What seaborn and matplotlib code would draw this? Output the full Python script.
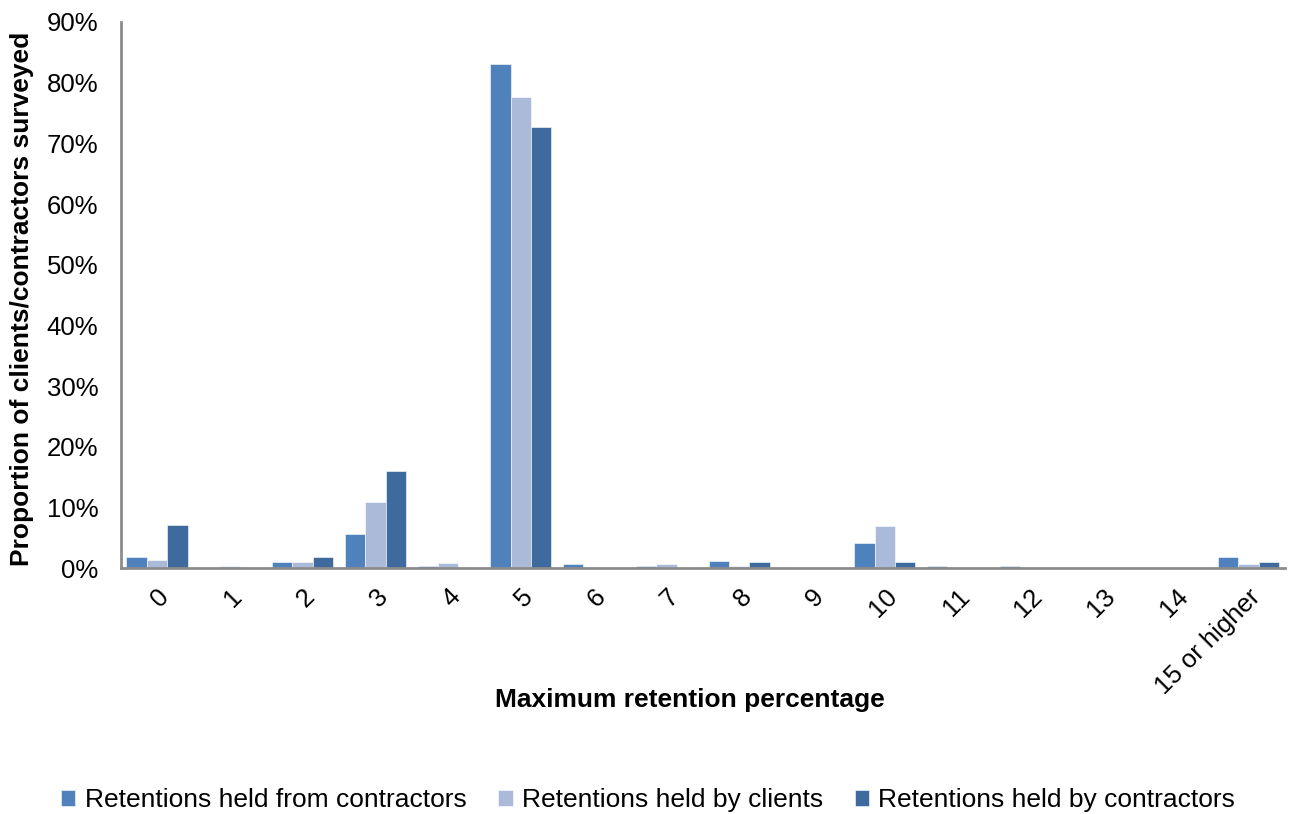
import matplotlib
matplotlib.use("Agg")
import matplotlib.pyplot as plt
import seaborn as sns
import pandas as pd
from matplotlib.ticker import FuncFormatter

categories = ["0", "1", "2", "3", "4", "5", "6", "7", "8", "9", "10",
              "11", "12", "13", "14", "15 or higher"]
held_from_contractors = [1.8, 0.0, 1.0, 5.6, 0.3, 83.0, 0.6, 0.3, 1.2, 0.0, 4.1,
                         0.3, 0.3, 0.0, 0.0, 1.8]
held_by_clients = [1.3, 0.3, 1.0, 10.8, 0.9, 77.6, 0.0, 0.6, 0.3, 0.0, 6.9,
                   0.0, 0.0, 0.0, 0.0, 0.6]
held_by_contractors = [7.1, 0.0, 1.8, 16.0, 0.0, 72.7, 0.0, 0.0, 1.0, 0.0, 1.0,
                       0.0, 0.0, 0.0, 0.0, 1.0]
series_names = ["Retentions held from contractors",
                "Retentions held by clients",
                "Retentions held by contractors"]
colors = ["#4F81BD", "#AABAD8", "#3E6A9D"]

rows = []
for name, vals in zip(series_names,
                      [held_from_contractors, held_by_clients, held_by_contractors]):
    for cat, v in zip(categories, vals):
        rows.append({"category": cat, "series": name, "value": v})
df = pd.DataFrame(rows)

sns.set_style("white")
plt.rcParams["font.family"] = ["Liberation Sans", "DejaVu Sans"]
plt.rcParams["text.color"] = "black"
plt.rcParams["axes.labelcolor"] = "black"
plt.rcParams["xtick.color"] = "black"
plt.rcParams["ytick.color"] = "black"

fig = plt.figure(figsize=(12.9, 8.14), dpi=100)
ax = fig.add_axes([120.6 / 1290, 1 - 568 / 814, (1285 - 120.6) / 1290, (568 - 22) / 814])

sns.barplot(data=df, x="category", y="value", hue="series", order=categories,
            hue_order=series_names, palette=colors, width=0.84, ax=ax,
            edgecolor="white", linewidth=0.4, saturation=1, errorbar=None)

ax.set_ylim(0, 90)
ax.set_xlim(-0.5, len(categories) - 0.5)
ax.set_yticks(range(0, 91, 10))
ax.yaxis.set_major_formatter(FuncFormatter(lambda v, p: f"{int(v)}%"))
ax.tick_params(axis="y", labelsize=18.5, length=0, pad=16)
ax.tick_params(axis="x", labelsize=18.5, length=0, pad=12)
for lbl in ax.get_xticklabels():
    lbl.set_rotation(45)
    lbl.set_ha("right")
    lbl.set_va("top")
    lbl.set_rotation_mode("anchor")

for side in ["top", "right"]:
    ax.spines[side].set_visible(False)
for side in ["left", "bottom"]:
    ax.spines[side].set_color("#8C8C8C")
    ax.spines[side].set_linewidth(2)

ax.set_xlabel("Maximum retention percentage", fontsize=19, fontweight="bold")
ax.xaxis.set_label_coords((690 - 120.6) / (1285 - 120.6), -(700 - 568) / 546)
ax.set_ylabel("Proportion of clients/contractors surveyed", fontsize=19,
              fontweight="bold")
ax.yaxis.set_label_coords(-(120.6 - 22) / (1285 - 120.6), (568 - 299) / 546)
ax.xaxis.label.set_va("center")
ax.yaxis.label.set_va("center")

handles, labels = ax.get_legend_handles_labels()
ax.legend_.remove()
fig.legend(handles, labels, loc="center", bbox_to_anchor=(648 / 1290, 1 - 800 / 814),
           ncol=3, frameon=False, fontsize=19, handlelength=0.55, handleheight=0.55,
           handletextpad=0.35, columnspacing=1.2)

fig.savefig("out.png", dpi=100)
